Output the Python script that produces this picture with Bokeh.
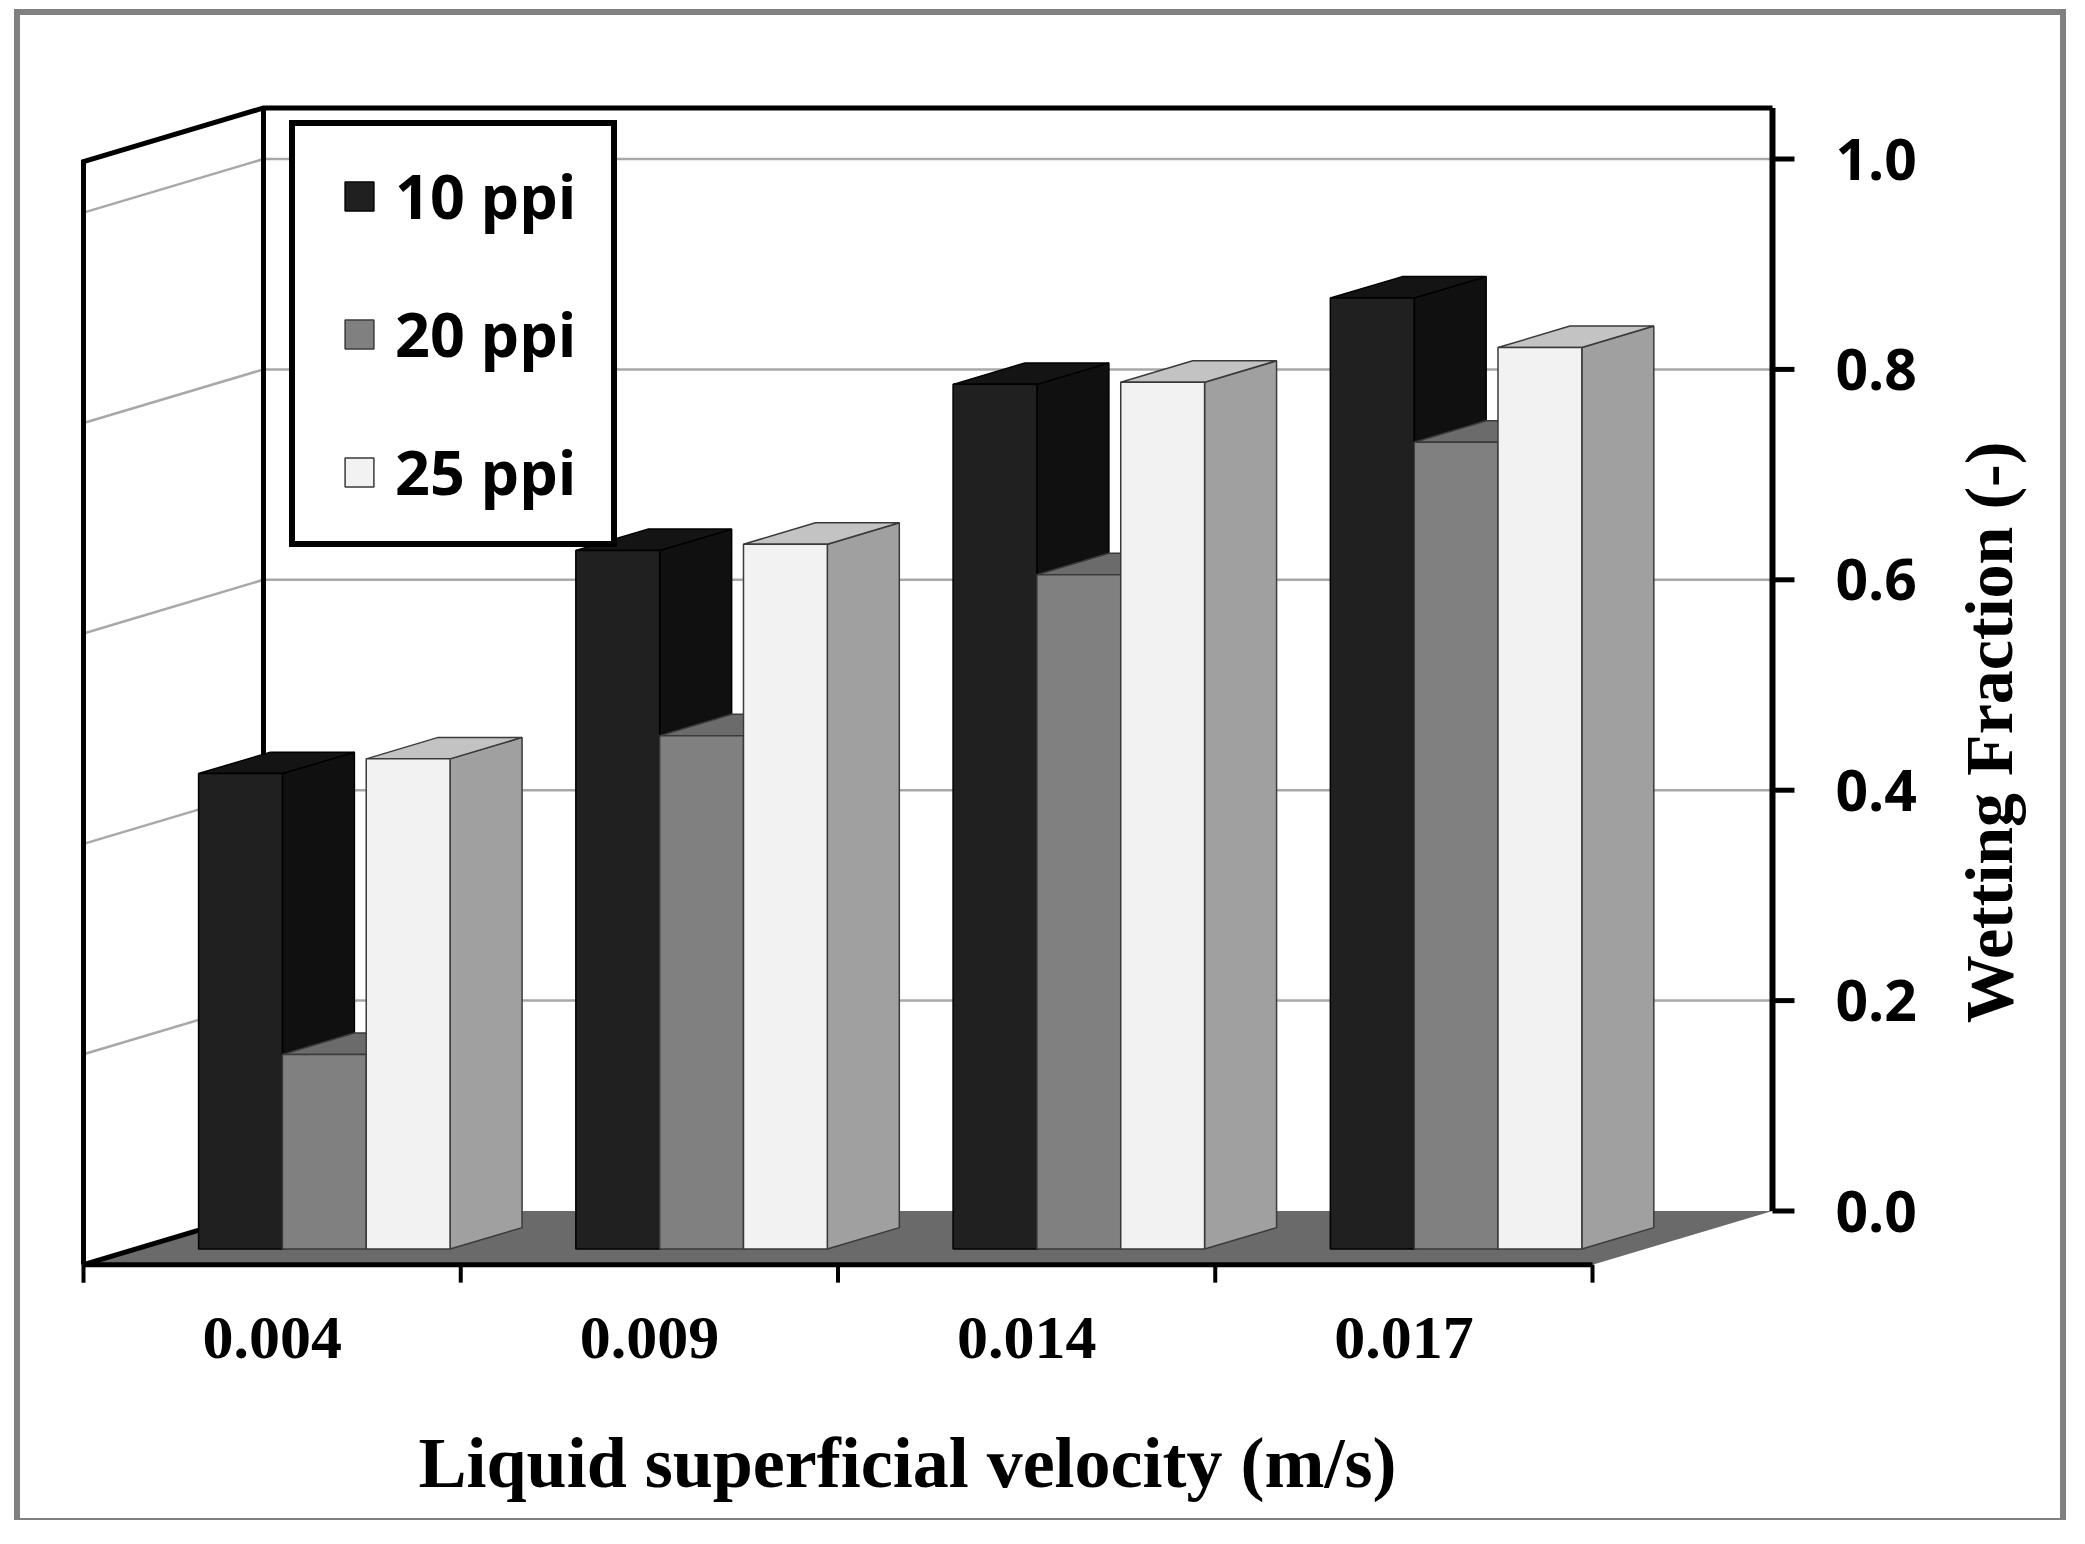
from bokeh.plotting import figure
from bokeh.models import Range1d, Legend, LegendItem
from bokeh.core.properties import value
from bokeh.embed import file_html
from bokeh.resources import INLINE

# ---------------- data ----------------
categories = ["0.004", "0.009", "0.014", "0.017"]
series_names = ["10 ppi", "20 ppi", "25 ppi"]
wetting_10ppi = [0.452, 0.664, 0.822, 0.904]
wetting_20ppi = [0.185, 0.488, 0.641, 0.767]
wetting_25ppi = [0.466, 0.670, 0.824, 0.857]
y_ticks = [0.0, 0.2, 0.4, 0.6, 0.8, 1.0]
y_tick_labels = ["0.0", "0.2", "0.4", "0.6", "0.8", "1.0"]
x_title = "Liquid superficial velocity (m/s)"
y_title = "Wetting Fraction (-)"

series_values = [wetting_10ppi, wetting_20ppi, wetting_25ppi]

# ---------------- style / layout ----------------
front_colors = ["#202020", "#808080", "#f2f2f2"]
top_colors = ["#141414", "#6b6b6b", "#c3c3c3"]
side_colors = ["#101010", "#727272", "#a0a0a0"]
edge_colors = ["#000000", "#3a3a3a", "#3a3a3a"]

N = len(categories)
DX = 0.4771        # oblique depth offset (category units) for full floor depth
DY = 0.051         # oblique depth offset (value units) for full floor depth
WALL_TOP = 1.0485  # top of back wall
D0, D1 = 0.29, 0.69  # depth span of bars
GAP = 1.0 / 6.0
BAR_W = 2.0 / 9.0

PX_X = 377.25      # pixels per category
PX_Y = 1052.0      # pixels per unit of wetting fraction
ORIGIN_PX = 83.0   # page x of the front-left floor corner
ZERO_PY = 1210.5   # page y of value 0 on the back wall
CANVAS_LEFT, CANVAS_TOP = 20, 15
CANVAS_W, CANVAS_H = 2040, 1503
BASELINE_SHIFT = 0.355  # em; correction for alphabetic baseline placement


def px_to_x(px):
    return (px - ORIGIN_PX) / PX_X


def py_to_y(py):
    return (ZERO_PY - py) / PX_Y


def proj(c, d, v):
    return c + d * DX, v - (1.0 - d) * DY


p = figure(width=CANVAS_W, height=CANVAS_H,
           x_range=Range1d(px_to_x(CANVAS_LEFT), px_to_x(CANVAS_LEFT + CANVAS_W)),
           y_range=Range1d(py_to_y(CANVAS_TOP + CANVAS_H), py_to_y(CANVAS_TOP)),
           x_axis_location=None, y_axis_location=None,
           toolbar_location=None, output_backend="svg",
           min_border=0, margin=(CANVAS_TOP, 0, 0, CANVAS_LEFT),
           styles={"box-shadow": "-2px -2px 0 4px #808080, 2px -2px 0 4px #808080"})
p.background_fill_color = "white"
p.border_fill_color = "white"
p.outline_line_color = None
p.grid.visible = False

# ---- gridlines on back wall and left wall ----
gv = y_ticks[1:]
p.segment(x0=[DX] * len(gv), y0=gv, x1=[N + DX] * len(gv), y1=gv,
          line_color="#a8a8a8", line_width=2.5)
p.segment(x0=[0] * len(gv), y0=[v - DY for v in gv], x1=[DX] * len(gv), y1=gv,
          line_color="#a8a8a8", line_width=2.5)

# ---- floor ----
p.patch(x=[0, N, N + DX, DX], y=[-DY, -DY, 0, 0], fill_color="#6a6a6a", line_color=None)

# ---- wall outlines ----
p.multi_line(xs=[[0, 0, DX, N + DX], [DX, DX], [0, DX]],
             ys=[[-DY, WALL_TOP - DY, WALL_TOP, WALL_TOP], [WALL_TOP, 0], [-DY, 0]],
             line_color="black", line_width=5, line_join="miter")

# ---- value axis on the right edge of the back wall ----
tick_len_x = 22.0 / PX_X
p.segment(x0=[N + DX], y0=[0], x1=[N + DX], y1=[WALL_TOP], line_color="black", line_width=6)
p.segment(x0=[N + DX] * len(y_ticks), y0=y_ticks,
          x1=[N + DX + tick_len_x] * len(y_ticks), y1=y_ticks,
          line_color="black", line_width=5)
p.text(x=[px_to_x(1835)] * len(y_ticks), y=y_ticks, text=y_tick_labels,
       text_align="left", text_baseline="middle", text_font=value("Open Sans"),
       text_font_style="bold", text_font_size="57px", text_color="black")

# ---- category axis on the front edge of the floor ----
bounds_x = list(range(N + 1))
tick_len_y = 18.0 / PX_Y
p.segment(x0=[0], y0=[-DY], x1=[N], y1=[-DY], line_color="black", line_width=5)
p.segment(x0=bounds_x, y0=[-DY] * len(bounds_x), x1=bounds_x,
          y1=[-DY - tick_len_y] * len(bounds_x), line_color="black", line_width=4)
p.text(x=[i + 0.5 for i in range(N)], y=[py_to_y(1360 - BASELINE_SHIFT * 62)] * N, text=categories,
       text_align="center", text_baseline="alphabetic", text_font=value("Liberation Serif"),
       text_font_style="bold", text_font_size="62px", text_color="black")

# ---- axis titles ----
p.text(x=[px_to_x(907)], y=[py_to_y(1488 - BASELINE_SHIFT * 72)], text=[x_title],
       text_align="center", text_baseline="alphabetic", text_font=value("Liberation Serif"),
       text_font_style="bold", text_font_size="72px", text_color="black")
p.text(x=[px_to_x(2013 - BASELINE_SHIFT * 68)], y=[py_to_y(732)], text=[y_title],
       angle=90, angle_units="deg",
       text_align="center", text_baseline="alphabetic", text_font=value("Liberation Serif"),
       text_font_style="bold", text_font_size="68px", text_color="black")

# ---- 3D bars ----
for s, vals in enumerate(series_values):
    fl, fr, fb, ft = [], [], [], []
    txs, tys, sxs, sys_ = [], [], [], []
    for g, v in enumerate(vals):
        c0 = g + GAP + s * BAR_W
        c1 = c0 + BAR_W
        x0, yb = proj(c0, D0, 0.0)
        x1, yt = proj(c1, D0, v)
        fl.append(x0); fr.append(x1); fb.append(yb); ft.append(yt)
        pts = [proj(c0, D0, v), proj(c1, D0, v), proj(c1, D1, v), proj(c0, D1, v)]
        txs.append([q[0] for q in pts]); tys.append([q[1] for q in pts])
        pts = [proj(c1, D0, 0.0), proj(c1, D1, 0.0), proj(c1, D1, v), proj(c1, D0, v)]
        sxs.append([q[0] for q in pts]); sys_.append([q[1] for q in pts])
    p.patches(xs=sxs, ys=sys_, fill_color=side_colors[s], line_color=edge_colors[s], line_width=1.5)
    p.patches(xs=txs, ys=tys, fill_color=top_colors[s], line_color=edge_colors[s], line_width=1.5)
    p.quad(left=fl, right=fr, bottom=fb, top=ft, fill_color=front_colors[s],
           line_color=edge_colors[s], line_width=1.5)

# ---- legend ----
items = []
for s, name in enumerate(series_names):
    r = p.scatter(x=[float("nan")], y=[float("nan")], marker="square", size=29,
                  fill_color=front_colors[s], line_color=edge_colors[s], line_width=1.5)
    items.append(LegendItem(label=name, renderers=[r]))
legend = Legend(items=items, location=(269, 971), glyph_width=72, glyph_height=72,
                label_standoff=0, label_width=188, padding=28, spacing=55, margin=0,
                label_text_font="Open Sans", label_text_font_style="bold",
                label_text_font_size="61px", label_text_color="black",
                border_line_color="black", border_line_width=6, border_line_alpha=1.0,
                background_fill_color="white", background_fill_alpha=1.0)
p.add_layout(legend)

open("out.html", "w").write(file_html(p, INLINE))
